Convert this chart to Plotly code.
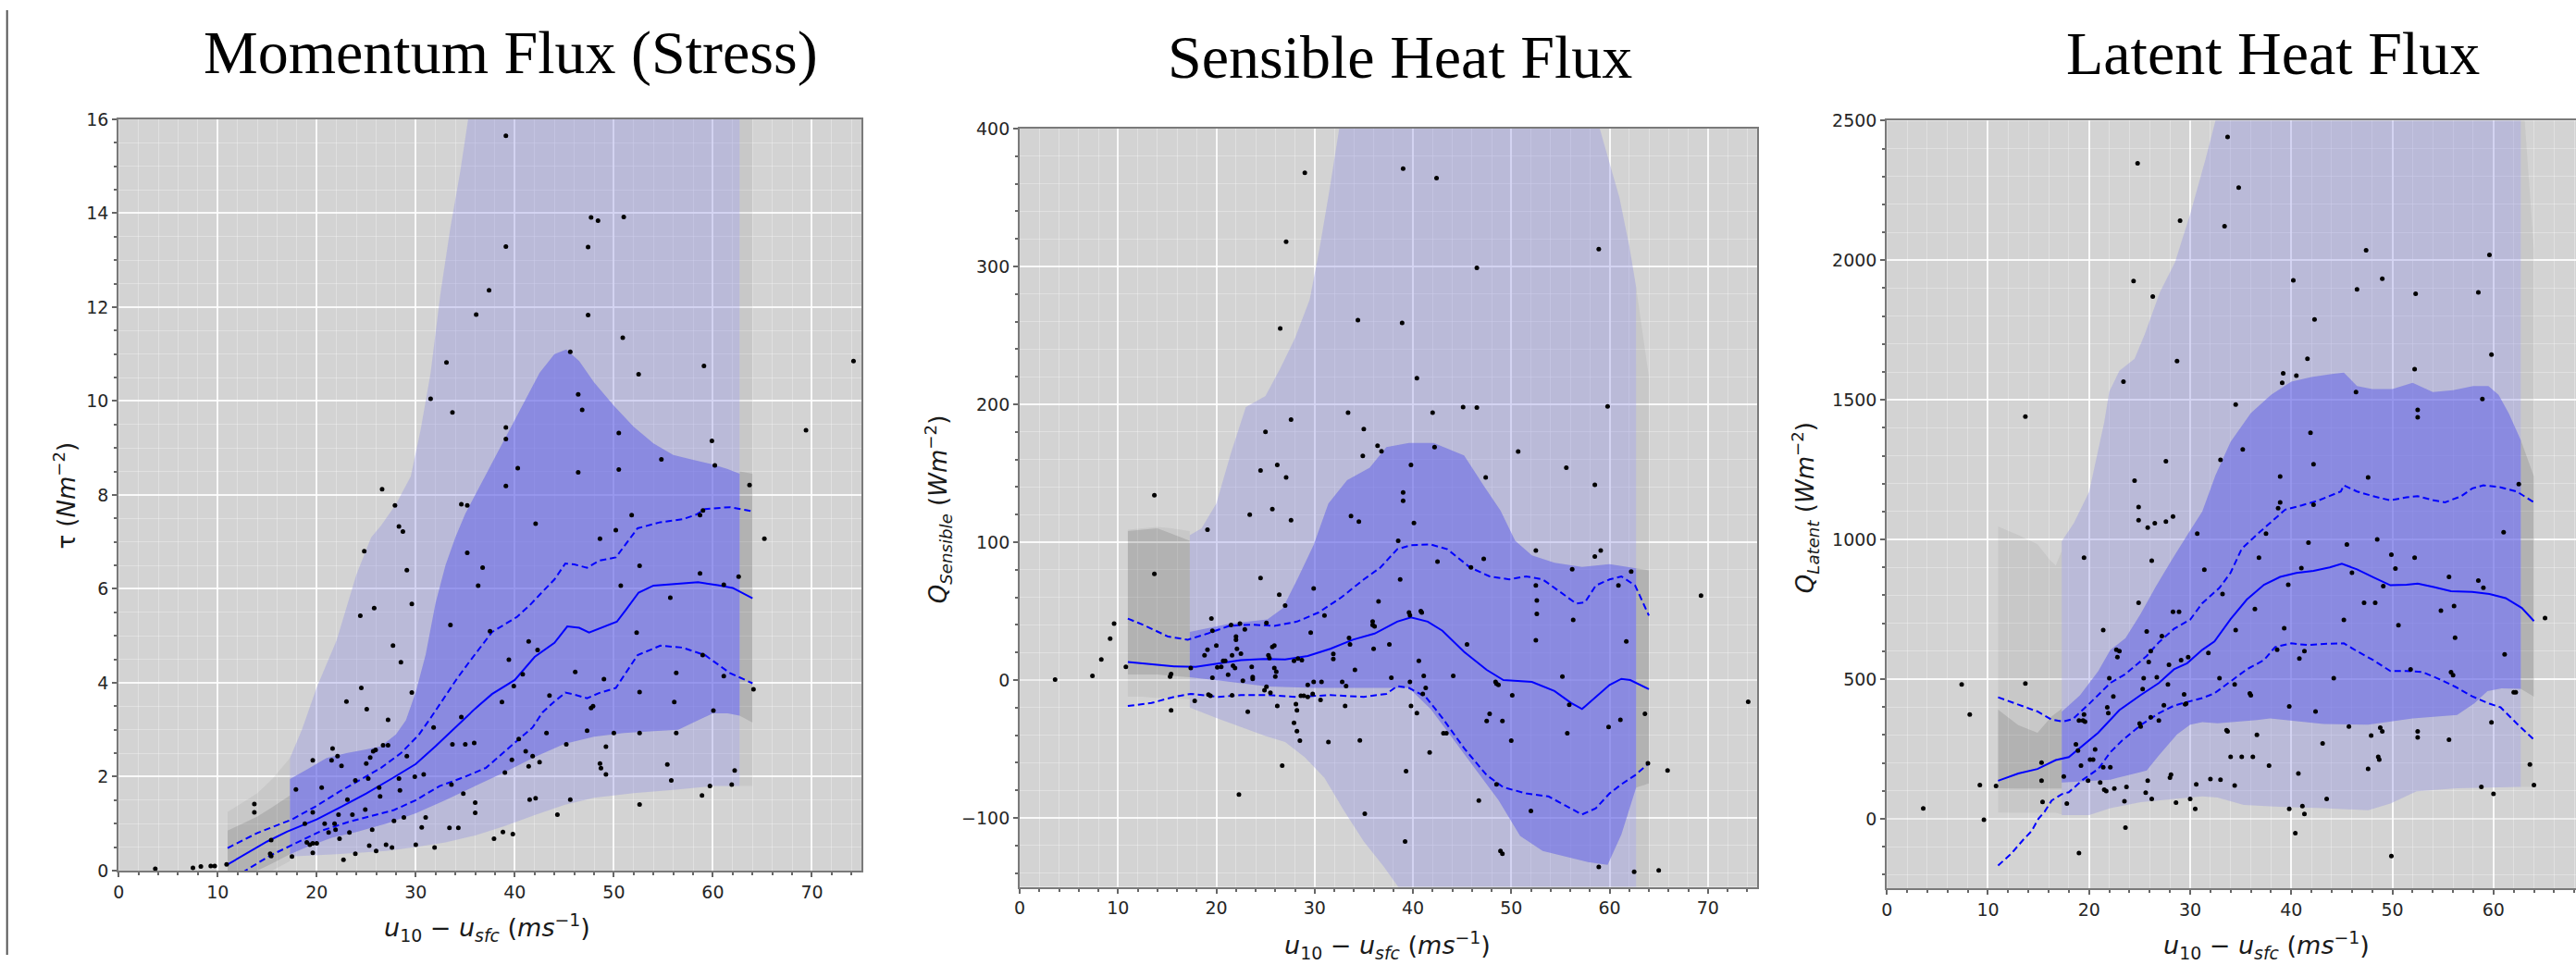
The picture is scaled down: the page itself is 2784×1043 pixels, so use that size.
import plotly.graph_objects as go

# ---------------- Panel 1: Momentum flux (stress) ----------------
TAU_POINTS = [(3.7,0.04),(7.5,0.06),(8.3,0.09),(9.3,0.1),(9.7,0.1),(10.9,0.13),(13.7,1.42),(13.7,1.24),(15.4,0.65),(15.4,0.31),
 (15.3,0.36),(17.5,0.3),(17.9,1.73),(18.8,1.0),(19.0,0.6),(19.3,0.55),(19.6,0.58),(19.6,2.35),(19.6,1.24),(19.6,0.38),
 (20.0,0.58),(20.5,1.77),(20.8,1.0),(21.2,0.81),(21.5,2.35),(21.6,2.6),(21.8,1.0),(21.9,0.87),(22.1,2.44),(22.2,1.19),
 (22.3,0.68),(22.5,2.23),(22.7,0.23),(23.0,3.6),(23.1,1.51),(23.3,0.81),(23.6,1.19),(23.9,1.92),(23.9,0.36),(24.4,5.43),
 (24.5,3.89),(24.8,6.8),(24.9,1.3),(25.0,2.28),(25.05,3.44),(25.2,1.96),(25.3,0.53),(25.4,2.41),(25.6,0.87),(25.7,2.54),
 (25.8,5.59),(26.0,0.42),(25.95,2.57),(26.3,1.77),(26.4,1.58),(26.6,8.12),(26.7,2.67),(27.0,0.55),(27.2,2.67),(27.2,3.21),
 (27.7,4.79),(27.8,1.06),(27.6,0.49),(27.9,7.78),(28.3,1.96),(28.3,7.33),(28.4,1.71),(28.5,4.44),(28.7,7.22),(28.8,1.13),
 (29.1,6.4),(29.1,2.44),(29.6,5.68),(29.6,3.79),(29.9,2.0),(30.0,0.55),(30.6,0.92),(30.8,2.05),(31.0,1.13),(31.5,10.05),
 (31.8,3.05),(31.9,0.49),(33.1,10.82),(33.5,5.23),(33.7,9.76),(33.7,2.69),(33.6,1.83),(33.4,0.91),(34.3,0.91),(34.6,3.27),
 (34.6,7.8),(34.8,1.64),(35.2,6.77),(35.0,2.69),(35.2,7.78),(35.9,2.72),(36.0,1.45),(36.0,1.23),(36.1,11.84),(36.3,6.07),
 (36.75,6.45),(37.5,5.1),(37.4,12.36),(37.9,0.68),(38.7,3.59),(38.8,0.82),(39.0,2.09),(39.1,15.65),(39.1,13.29),(39.1,9.44),
 (39.1,9.19),(39.1,8.19),(39.4,4.49),(39.7,2.36),(39.8,0.78),(39.9,3.93),(40.3,8.57),(40.4,2.80),(40.8,4.18),(41.1,2.54),
 (41.4,4.88),(41.4,2.22),(41.5,1.51),(41.8,2.44),(42.1,7.39),(42.1,1.54),(42.3,4.70),(42.5,2.31),(43.2,2.93),(43.5,3.73),
 (44.3,1.19),(45.2,2.69),(45.6,11.05),(45.6,1.51),(46.1,4.23),(46.4,10.14),(46.4,8.48),(46.8,9.81),(47.3,2.98),(47.4,11.83),
 (47.4,13.28),(47.7,13.91),(47.7,3.46),(47.9,3.50),(48.4,13.84),(48.6,7.07),(48.6,2.28),(48.7,2.18),(49.0,4.08),(49.2,2.05),
 (49.2,2.64),(50.0,2.93),(50.2,7.25),(50.5,9.32),(50.5,8.54),(50.7,6.07),(50.9,11.35),(51.0,13.92),(51.8,7.57),(52.3,5.07),
 (52.5,10.57),(52.6,6.49),(52.6,3.80),(52.6,2.93),(52.6,1.41),(54.8,8.76),(55.4,2.26),(55.7,5.81),(55.8,1.92),(56.1,3.59),
 (56.3,2.93),(56.3,4.21),(58.7,6.33),(58.7,7.57),(58.9,1.60),(58.97,4.59),(59.0,7.67),(59.1,10.75),(59.7,1.80),(59.9,9.15),
 (60.05,3.41),(60.2,8.63),(61.1,6.09),(61.1,4.14),(61.9,1.83),(62.2,2.13),(62.6,6.26),(63.7,8.21),(64.1,3.86),(65.2,7.07),
 (69.4,9.38),(74.2,10.85)]
TAU_MEDIAN = [(11,0.13),(13,0.37),(15,0.62),(17,0.83),(20,1.09),(22.5,1.36),(25,1.64),(27.5,1.95),(30,2.27),(32,2.65),
 (34.5,3.15),(36,3.45),(37.7,3.76),(40,4.06),(42,4.55),(44,4.85),(45.3,5.2),(46.5,5.17),(47.5,5.07),(48.5,5.15),
 (50.3,5.3),(51.2,5.55),(52.5,5.92),(54,6.07),(56,6.1),(58.5,6.14),(60.5,6.08),(62,6.02),(64,5.8)]
TAU_Q_HI = [(11,0.48),(14,0.8),(17.5,1.09),(20,1.38),(22.2,1.67),(24.5,1.95),(26.5,2.19),(28.5,2.5),(30.3,2.89),(31.5,3.25),
 (32.8,3.67),(34.2,4.1),(35.6,4.5),(37.7,5.08),(40.2,5.4),(41.5,5.65),(42.8,5.94),(44,6.2),(45.1,6.54),(46,6.52),
 (47.3,6.45),(48.5,6.6),(50.2,6.67),(51.2,6.95),(52.4,7.29),(54.7,7.42),(56.9,7.48),(58.3,7.58),(59.2,7.7),(61.7,7.74),(64,7.65)]
TAU_Q_LO = [(11,-0.35),(12.8,0.0),(15.3,0.32),(18.4,0.64),(20.5,0.85),(23.1,1.03),(27.8,1.29),(30,1.5),(32.4,1.8),(35,2.0),
 (37.1,2.19),(40.2,2.76),(41.8,3.05),(42.8,3.37),(44,3.6),(45.1,3.79),(46,3.75),(47.3,3.67),(48.5,3.78),(50.2,3.89),
 (51.2,4.2),(52.4,4.59),(54.7,4.79),(56.9,4.75),(59.2,4.59),(61.7,4.21),(64,3.99)]
TAU_OUTER_HI = [(17.3,2.4),(18.5,3.0),(20,3.9),(22,4.9),(24,6.3),(25.5,7.1),(26.5,7.35),(28,7.8),(29.5,8.4),(30.5,9.4),
 (31.5,10.6),(32.5,12.3),(33.5,13.7),(34.5,14.9),(35.5,16.3),(37,18),(62.7,18)]
TAU_OUTER_LO = [(17.3,0.3),(22,0.35),(27,0.42),(30,0.5),(33,0.6),(36,0.75),(39,0.95),(42,1.18),(45,1.4),(48,1.55),
 (52,1.65),(56,1.72),(60,1.8),(62.7,1.8)]
TAU_INNER_HI = [(17.3,1.95),(19,2.15),(21,2.4),(23,2.5),(25,2.58),(26.5,2.65),(28,2.9),(29,3.2),(30,3.8),(31,4.6),
 (32,5.7),(33,6.5),(34,7.1),(35,7.6),(36.5,8.2),(38,8.8),(39.5,9.4),(41,10.0),(42.5,10.6),(44,11.0),(45.2,11.1),
 (46.5,10.85),(48,10.4),(50,9.9),(52,9.45),(54,9.1),(56,8.85),(58,8.75),(60,8.65),(61.5,8.55),(62.7,8.45)]
TAU_INNER_LO = [(17.3,0.35),(19,0.5),(21.5,0.7),(24,0.82),(27,1.0),(30,1.22),(33,1.5),(36,1.8),(39,2.1),(42,2.42),
 (45,2.7),(48,2.85),(51,2.93),(54,2.97),(56.5,3.0),(58.5,3.2),(60,3.35),(61.5,3.35),(62.7,3.3)]
TAU_GRAY_L_X = [11, 12.5, 14, 15.5, 17.3]
TAU_GRAY_L_OUT_HI = [1.25, 1.45, 1.65, 1.95, 2.4]
TAU_GRAY_L_OUT_LO = [-0.5, -0.4, -0.25, 0.0, 0.2]
TAU_GRAY_L_IN_HI = [0.85, 1.0, 1.15, 1.35, 1.6]
TAU_GRAY_L_IN_LO = [-0.3, -0.15, 0.0, 0.15, 0.35]
TAU_GRAY_R_X = [62.7, 64]
TAU_GRAY_R_OUT_HI = [17, 17]
TAU_GRAY_R_OUT_LO = [1.8, 1.8]
TAU_GRAY_R_IN_HI = [8.5, 8.45]
TAU_GRAY_R_IN_LO = [3.3, 3.15]

# ---------------- Panel 2: Sensible heat flux ----------------
SEN_POINTS = [(3.6,0.4),(7.4,3),(8.3,15),(9.2,30),(9.6,41),(10.8,9.6),(13.7,134),(13.7,77),(15.3,2.6),(15.4,4.4),
 (15.4,-22),(17.4,8.7),(17.8,-15),(18.8,18),(19.1,22),(19.1,109),(19.2,-10.5),(19.4,-11.4),(19.5,44.6),(19.6,35.8),
 (19.6,1.7),(20.0,25),(20.1,9.2),(20.5,9.6),(20.7,14),(20.9,14),(21.2,3.9),(21.5,40),(21.6,18),(21.6,-11),
 (21.7,10.5),(21.9,8.7),(22.0,29.3),(22.0,31.5),(22.1,22.7),(22.3,-83),(22.4,41),(22.5,19.2),(22.7,-0.4),(22.9,36.7),
 (23.2,-23),(23.4,120),(23.6,9.6),(23.7,2.2),(23.7,0.9),(24.5,152),(24.5,74),(24.9,-7.4),(25.0,180),(25.1,-4.8),
 (25.1,41.5),(25.3,18),(25.4,16),(25.5,-9.2),(25.7,124),(25.7,24),(25.9,25),(25.9,8.7),(26.0,2.6),(26.1,6.1),
 (26.2,-18.8),(26.2,156),(26.4,62),(26.5,255),(26.7,-62),(27.0,54),(27.1,318),(27.1,147),(27.6,189),(27.6,116),
 (27.9,14),(27.9,-31),(28.1,-17.5),(28.2,-37),(28.2,-22),(28.3,15.7),(28.5,-44),(28.6,-11.4),(28.7,14.4),(28.9,-11.4),
 (29.0,368),(29.3,-12.2),(29.3,-3.5),(29.6,34.5),(29.8,-10),(29.9,66.4),(29.9,-1.3),(30.6,-14.4),(30.7,-1.3),(31.0,46.8),
 (31.4,-45),(31.9,19),(31.9,15.3),(32.8,-1.3),(33.1,-18.8),(33.2,-4.4),(33.4,194),(33.5,30.6),(33.6,25.8),(33.7,119),
 (34.1,7.4),(34.4,261),(34.5,115),(34.6,-43.7),(34.9,162.6),(35.0,182),(35.1,-97),(35.9,42.4),(35.9,40),(36.0,22.7),
 (36.1,39),(36.4,170),(36.5,57),(36.8,166),(37.6,25.8),(37.8,1.7),(38.5,101),(38.7,73),(39.0,136),(39.0,130),
 (39.0,371),(38.9,259),(39.3,-66),(39.2,-117),(39.6,49),(39.7,47),(39.7,-1.3),(39.8,156),(39.8,-18.8),(40.1,114),
 (40.4,-24),(40.4,219),(40.6,14),(40.8,50),(40.9,49),(41.0,-10),(41.1,3.1),(41.3,-5.7),(41.7,-52.5),(42.0,194),
 (42.2,169),(42.4,364),(42.5,86),(43.1,-38.5),(43.4,-38.5),(44.1,3.1),(45.1,198),(45.5,25.8),(45.9,81.7),(46.5,197.6),
 (46.5,299),(46.7,-87.4),(47.2,88),(47.4,147),(47.5,-29.7),(47.8,-24.5),(48.4,-1.3),(48.5,-2.6),(48.5,-75.6),(48.7,-3.5),
 (48.9,-124),(49.1,-126),(49.1,-29.7),(50.0,-44),(50.1,-11),(50.7,165.7),(52.0,-95),(52.5,94),(52.5,68.6),(52.6,48),
 (52.6,57.7),(52.5,28.9),(55.2,2.6),(55.6,154),(55.7,-38.5),(55.9,-18),(56.2,80.4),(56.3,43.7),(58.5,141.6),(58.5,89.6),
 (58.9,312.6),(58.9,-135.5),(59.1,94),(59.8,198.5),(59.9,-34),(60.9,68.6),(61.1,-28.9),(61.7,28),(62.2,78.7),(62.5,-139),
 (63.6,-24.5),(63.9,-60.3),(65.0,-138),(65.9,-65.6),(69.3,61.2),(74.1,-15.7)]
SEN_MEDIAN = [(11,13.1),(13.4,11.4),(15.7,10),(17.9,9.6),(20.2,12),(22.5,14.5),(24.8,15.3),(27,14.9),(29.3,17.5),(31.6,22.7),
 (33.9,29.3),(36.1,33.7),(38.4,42.4),(39.8,45.5),(41.5,42.4),(43,35.8),(45.2,20.5),(47.5,7.4),(49.2,0),(52.1,-1.3),
 (54.4,-7.9),(56.1,-16.6),(57.2,-21),(58.6,-12.2),(60,-3.5),(61.2,0.9),(62.1,0),(64,-6.6)]
SEN_Q_HI = [(11,44.6),(12.8,39.3),(15.1,31.5),(17.1,29.3),(19.1,33.7),(21.3,39.3),(23.6,40.2),(25.9,39.3),(28.2,42.4),(30.4,49),
 (32.7,59.9),(35,73),(36.7,81.7),(38.4,94.9),(39.8,97.9),(41.8,98.4),(43.5,94.9),(45.8,81.7),(47.8,75.2),(49.8,73),
 (51.5,75.2),(53.2,73),(54.9,64.3),(56.6,55.5),(57.5,56.4),(58.6,68.6),(60,73),(61.2,75.2),(62.6,68.6),(64,46.8)]
SEN_Q_LO = [(11,-18.8),(13.4,-16.6),(15.7,-12.2),(17.4,-10),(20.2,-12.2),(22.5,-10.9),(25.3,-10.9),(28.2,-12.2),(31.6,-10.9),(35,-12.2),
 (37.3,-10),(38.4,-4.4),(39.6,-5.7),(41.3,-12.2),(43,-27.5),(45.2,-49.4),(47.5,-69),(49.2,-77.8),(51.5,-82.2),(53.8,-84.4),
 (55.5,-91),(57.2,-97.5),(58.6,-93),(60,-82.2),(61.2,-75.6),(62.6,-69),(64,-60.3)]
SEN_OUTER_HI = [(17.3,105),(18.5,110),(20,128),(21.5,165),(23,198),(25,206),(26.5,226),(28,248),(29.5,276),(30.5,313),
 (31.5,355),(32.5,400),(34,470),(57,470),(59,400),(60,375),(61,350),(62,315),(62.7,285)]
SEN_OUTER_LO = [(17.3,-20),(20,-27.5),(22.5,-34),(25,-40.6),(27,-45),(29,-56),(31,-71),(33,-95),(35,-117),(37,-135),
 (38.5,-150),(40,-170),(62.7,-170)]
SEN_INNER_HI = [(17.3,35),(21.4,41),(25.2,44),(26.75,52),(28.3,74),(29.9,98),(31.4,128),(33.3,145),(35.6,154),(37.3,169),
 (39.6,172),(42.1,172),(45.2,163),(47.2,141),(48.9,123),(50.4,101),(52.1,90.5),(54.4,85),(57.2,82),(60,84),(62.7,81)]
SEN_INNER_LO = [(17.3,2),(20.5,-0.5),(25.2,-4.7),(29.9,-5.7),(33,-5.7),(37.3,-5.7),(39.6,-5.7),(41.8,-21),(44.1,-43),(46.4,-65),
 (48.7,-87),(50.9,-113),(53.2,-124),(55.5,-128),(57.8,-132),(59.8,-134),(61.2,-112),(62.7,-78)]
SEN_GRAY_L_X = [11, 12.5, 14, 15.5, 17.3]
SEN_GRAY_L_OUT_HI = [109, 110, 111, 110, 108]
SEN_GRAY_L_OUT_LO = [-12, -12, -13, -13, -14]
SEN_GRAY_L_IN_HI = [108, 109, 110, 106, 101]
SEN_GRAY_L_IN_LO = [4, 4, 4, 3, 2]
SEN_GRAY_R_X = [62.7, 64]
SEN_GRAY_R_OUT_HI = [285, 220]
SEN_GRAY_R_OUT_LO = [-170, -170]
SEN_GRAY_R_IN_HI = [81, 79.6]
SEN_GRAY_R_IN_LO = [-78, -75]

# ---------------- Panel 3: Latent heat flux ----------------
LAT_POINTS = [(3.6,37),(7.4,481),(8.2,373),(9.2,121),(9.6,-4),(10.8,117),(13.7,1440),(13.7,484),(15.3,201),(15.3,136),
 (15.4,60),(17.5,151),(17.8,54),(18.7,266),(18.9,244),(19.0,352),(19.0,-123),(19.2,190),(19.4,352),(19.5,373),
 (19.5,935),(19.6,348),(19.9,136),(20.1,212),(20.4,212),(20.6,248),(21.1,130),(21.4,184),(21.4,676),(21.5,104),
 (21.7,99),(21.8,399),(21.9,378),(22.0,503),(22.1,184),(22.4,438),(22.5,108),(22.7,605),(22.8,579),(23.0,600),
 (23.4,1565),(23.5,63),(23.6,-32),(23.7,114),(24.4,1926),(24.5,1211),(24.8,2347),(24.9,773),(24.9,1116),(24.9,1069),
 (25.0,341),(25.1,330),(25.3,464),(25.4,503),(25.6,93),(25.7,671),(25.8,1043),(25.8,136),(25.9,561),(26.1,363),
 (26.1,600),(26.2,71),(26.2,924),(26.3,1870),(26.5,1058),(26.7,507),(26.9,352),(27.2,654),(27.4,406),(27.6,1280),
 (27.6,1064),(27.8,481),(27.9,551),(28.0,147),(28.1,158),(28.3,741),(28.3,1082),(28.6,58),(28.7,1639),(28.9,741),
 (29.0,2142),(29.1,568),(29.4,445),(29.5,410),(29.6,412),(29.8,579),(30.0,71),(30.5,35),(30.6,123),(30.7,1021),
 (31.4,892),(31.8,594),(32.0,142),(32.9,503),(33.0,140),(33.0,1285),(33.2,805),(33.4,2122),(33.6,317),(33.7,2442),
 (33.7,313),(34.0,222),(34.4,481),(34.4,119),(34.5,676),(34.5,1483),(34.8,2260),(35.1,222),(35.2,1323),(35.9,449),
 (36.0,442),(36.2,222),(36.4,751),(36.6,300),(36.8,935),(37.5,1021),(37.8,190),(38.6,605),(38.7,1112),(38.9,1133),
 (38.9,1226),(39.1,1561),(39.2,1595),(39.3,682),(39.7,838),(39.8,402),(39.8,35),(40.2,1928),(40.4,-52),(40.5,1587),
 (40.7,162),(40.8,574),(41.0,898),(41.1,45),(41.3,600),(41.3,17),(41.6,1647),(41.7,989),(41.9,1382),(42.2,1270),
 (42.2,1125),(42.3,1788),(42.4,384),(43.1,270),(43.5,71),(44.2,503),(45.2,712),(45.5,982),(45.7,330),(46.0,881),
 (46.4,1528),(46.5,1896),(47.2,773),(47.4,2036),(47.6,1222),(47.6,179),(47.9,298),(48.3,773),(48.5,1000),(48.6,222),
 (48.7,212),(48.8,326),(49.0,313),(49.0,1934),(49.1,833),(49.9,946),(49.9,-134),(50.3,896),(50.6,693),(51.8,535),
 (52.2,935),(52.2,1610),(52.3,1880),(52.5,1464),(52.5,1438),(52.5,313),(52.5,291),(55.6,866),(55.6,283),(54.8,745),
 (55.8,525),(56.0,514),(56.1,762),(56.2,648),(58.5,1885),(58.5,853),(58.8,114),(58.9,1503),(59.0,827),(59.6,2019),
 (59.8,1662),(59.8,345),(60.0,89),(61.0,1026),(61.1,589),(62.0,453),(62.2,453),(62.5,1198),(63.6,194),(64.0,121),
 (65.1,719)]
LAT_MEDIAN = [(11,136),(13,162),(14.9,178),(16.7,210),(18,221),(19.1,254),(20.9,308),(23,389),(25.1,443),(26.9,486),
 (28.4,535),(29.7,557),(31.2,605),(32.4,635),(34,715),(35.6,785),(37.3,838),(38.9,866),(40.5,880),(42.2,888),
 (43.8,900),(45.0,913),(46.5,893),(48.1,865),(49.8,836),(51.4,838),(52.5,842),(54.1,830),(55.8,815),(57.9,812),
 (59.6,805),(61.2,790),(62.8,755),(64,708)]
LAT_Q_HI = [(11,435),(13,409),(14.9,384),(16.3,355),(17.4,348),(18.4,357),(20,411),(22.1,486),(23.6,518),(25.7,583),
 (26.9,632),(28.4,680),(30,713),(31.2,772),(32.9,827),(34,881),(35.1,967),(36.7,1021),(38.4,1075),(39.4,1107),
 (41.1,1123),(42.7,1140),(44.9,1172),(45.2,1194),(46.5,1172),(48.1,1155),(49.8,1140),(51.4,1151),(52.5,1155),(54.1,1140),
 (55.2,1133),(56.8,1155),(57.9,1183),(59,1194),(60.7,1187),(62.3,1172),(64,1133)]
LAT_Q_LO = [(11,-168),(12.3,-125),(13.5,-75),(14.3,-45),(15,0),(15.6,25),(16.3,65),(17.3,88),(18,95),(19.4,140),
 (20.9,178),(22.1,238),(23.3,281),(25.1,335),(26.9,378),(28.4,405),(30,421),(31.2,432),(32.4,449),(34,492),
 (35.6,535),(37.3,568),(38.4,615),(40,628),(41.6,622),(43.2,626),(45.2,628),(46.5,600),(48.1,568),(49.8,529),
 (51.4,529),(53,525),(54.7,499),(56.3,471),(57.9,438),(59.6,412),(60.7,399),(62.3,341),(64,283)]
LAT_OUTER_HI = [(17.3,994),(18.5,1059),(20,1170),(21.5,1420),(22,1530),(23,1604),(24.5,1647),(25.5,1734),(27,1885),(28.5,1993),
 (30,2165),(31.5,2360),(32.5,2500),(34,2700),(62.7,2700)]
LAT_OUTER_LO = [(17.3,13),(20,13),(22.1,38),(25.1,59),(28.2,70),(31.2,80),(32.7,76),(35.3,49),(38.8,43),(43.2,38),
 (47.6,30),(49.8,54),(52.4,98),(56.4,109),(62.7,114)]
LAT_INNER_HI = [(17.3,383),(19.1,442),(20.9,528),(22.1,604),(23.6,647),(25.1,734),(26.6,831),(28.2,928),(29.7,1015),(31.2,1101),
 (32.5,1230),(34,1350),(36,1453),(38,1518),(40,1565),(42,1582),(44,1593),(45.2,1598),(46.5,1550),(48,1539),
 (50,1539),(52,1561),(54,1528),(56,1535),(58,1550),(59.5,1550),(60.5,1518),(61.5,1453),(62.7,1356)]
LAT_INNER_LO = [(17.3,130),(22.1,140),(25.1,167),(25.7,173),(26.9,227),(28.7,302),(30,337),(31.2,346),(32.7,342),(36.6,353),
 (37.9,359),(41,348),(43.2,339),(47.6,337),(52,359),(56.4,372),(58.1,413),(59.4,457),(60.8,467),(62.7,465)]
LAT_GRAY_L_OUT_X = [11, 13, 14.9, 16.1, 16.7, 17.3]
LAT_GRAY_L_OUT_HI = [1047, 1016, 983, 928, 907, 960]
LAT_GRAY_L_OUT_LO = [22, 21, 21, 21, 21, 15]
LAT_GRAY_L_IN_X = [11, 13, 14.9, 16.3, 17.3]
LAT_GRAY_L_IN_HI = [391, 335, 308, 367, 394]
LAT_GRAY_L_IN_LO = [109, 108, 108, 108, 108]
LAT_GRAY_R_X = [62.7, 64]
LAT_GRAY_R_OUT_HI = [2700, 2036]
LAT_GRAY_R_OUT_LO = [114, 114]
LAT_GRAY_R_IN_HI = [1356, 1226]
LAT_GRAY_R_IN_LO = [465, 437]

TITLES = ["Momentum Flux (Stress)", "Sensible Heat Flux", "Latent Heat Flux"]
X_LABEL = "<i>u</i><sub>10</sub> − <i>u</i><sub><i>sfc</i></sub> (<i>ms</i><sup>−1</sup>)"
Y_LABELS = ["τ (<i>Nm</i><sup>−2</sup>)",
            "<i>Q</i><sub><i>Sensible</i></sub> (<i>Wm</i><sup>−2</sup>)",
            "<i>Q</i><sub><i>Latent</i></sub> (<i>Wm</i><sup>−2</sup>)"]

# ---------------- styling ----------------
W, H = 2784, 1043
BG = '#d3d3d3'
LAV = 'rgba(140,140,225,0.35)'
MED = 'rgba(90,90,232,0.5)'
GRAY_OUT = 'rgba(0,0,0,0.05)'
GRAY_IN = 'rgba(0,0,0,0.11)'
BLUE = '#0000ff'
TICK_FONT = dict(family='DejaVu Sans', size=19, color='#262626')
XLABEL_FONT = dict(family='DejaVu Sans', size=27, color='#1a1a1a')
YLABEL_FONT = dict(family='DejaVu Sans', size=26, color='#1a1a1a')
TITLE_FONT = dict(family='Liberation Serif, Times New Roman, serif', size=66, color='black')


def unzip(pairs):
    return [p[0] for p in pairs], [p[1] for p in pairs]


def band_xy(hi, lo):
    hx, hy = unzip(hi)
    lx, ly = unzip(lo)
    return hx + lx[::-1], hy + ly[::-1]


fig = go.Figure()


def add_fill(xs, ys, color, xa, ya):
    fig.add_trace(go.Scatter(x=xs, y=ys, fill='toself', fillcolor=color, mode='none',
                             line=dict(width=0), xaxis=xa, yaxis=ya, hoverinfo='skip', showlegend=False))


def add_panel(n, points, med, qhi, qlo, ohi, olo, ihi, ilo, grays):
    xa = 'x' if n == 1 else 'x%d' % n
    ya = 'y' if n == 1 else 'y%d' % n
    for gx, ghi, glo, col in grays:
        add_fill(list(gx) + list(gx)[::-1], list(ghi) + list(glo)[::-1], col, xa, ya)
    bx, by = band_xy(ohi, olo)
    add_fill(bx, by, LAV, xa, ya)
    bx, by = band_xy(ihi, ilo)
    add_fill(bx, by, MED, xa, ya)
    for pairs, dash in ((med, 'solid'), (qhi, '7px,4px'), (qlo, '7px,4px')):
        lx, ly = unzip(pairs)
        fig.add_trace(go.Scatter(x=lx, y=ly, mode='lines', line=dict(color=BLUE, width=2, dash=dash),
                                 xaxis=xa, yaxis=ya, hoverinfo='skip', showlegend=False))
    px, py = unzip(points)
    fig.add_trace(go.Scatter(x=px, y=py, mode='markers', marker=dict(color='black', size=5, line=dict(width=0)),
                             xaxis=xa, yaxis=ya, hoverinfo='skip', showlegend=False))


add_panel(1, TAU_POINTS, TAU_MEDIAN, TAU_Q_HI, TAU_Q_LO, TAU_OUTER_HI, TAU_OUTER_LO, TAU_INNER_HI, TAU_INNER_LO,
          [(TAU_GRAY_L_X, TAU_GRAY_L_OUT_HI, TAU_GRAY_L_OUT_LO, GRAY_OUT),
           (TAU_GRAY_R_X, TAU_GRAY_R_OUT_HI, TAU_GRAY_R_OUT_LO, GRAY_OUT),
           (TAU_GRAY_L_X, TAU_GRAY_L_IN_HI, TAU_GRAY_L_IN_LO, GRAY_IN),
           (TAU_GRAY_R_X, TAU_GRAY_R_IN_HI, TAU_GRAY_R_IN_LO, GRAY_IN)])
add_panel(2, SEN_POINTS, SEN_MEDIAN, SEN_Q_HI, SEN_Q_LO, SEN_OUTER_HI, SEN_OUTER_LO, SEN_INNER_HI, SEN_INNER_LO,
          [(SEN_GRAY_L_X, SEN_GRAY_L_OUT_HI, SEN_GRAY_L_OUT_LO, GRAY_OUT),
           (SEN_GRAY_R_X, SEN_GRAY_R_OUT_HI, SEN_GRAY_R_OUT_LO, GRAY_OUT),
           (SEN_GRAY_L_X, SEN_GRAY_L_IN_HI, SEN_GRAY_L_IN_LO, GRAY_IN),
           (SEN_GRAY_R_X, SEN_GRAY_R_IN_HI, SEN_GRAY_R_IN_LO, GRAY_IN)])
add_panel(3, LAT_POINTS, LAT_MEDIAN, LAT_Q_HI, LAT_Q_LO, LAT_OUTER_HI, LAT_OUTER_LO, LAT_INNER_HI, LAT_INNER_LO,
          [(LAT_GRAY_L_OUT_X, LAT_GRAY_L_OUT_HI, LAT_GRAY_L_OUT_LO, GRAY_OUT),
           (LAT_GRAY_R_X, LAT_GRAY_R_OUT_HI, LAT_GRAY_R_OUT_LO, GRAY_OUT),
           (LAT_GRAY_L_IN_X, LAT_GRAY_L_IN_HI, LAT_GRAY_L_IN_LO, GRAY_IN),
           (LAT_GRAY_R_X, LAT_GRAY_R_IN_HI, LAT_GRAY_R_IN_LO, GRAY_IN)])


def px_x(p):
    return p / W


def px_y(p):
    return 1 - p / H


def axis(domain, rng, anchor, dtick, minor_dtick, mirror=True):
    return dict(domain=domain, range=rng, anchor=anchor, tick0=0, dtick=dtick, autorange=False,
                showgrid=True, gridcolor='rgba(255,255,255,0.85)', gridwidth=1.5,
                ticks='outside', ticklen=5, tickwidth=1.5, tickcolor='#666',
                showline=True, linecolor='#7a7a7a', linewidth=2, mirror=mirror, zeroline=False,
                tickfont=TICK_FONT, layer='above traces',
                minor=dict(dtick=minor_dtick, tick0=0, showgrid=True, gridcolor='rgba(255,255,255,0.3)',
                           gridwidth=1, ticks='outside', ticklen=3, tickcolor='#666'))


# panel pixel boxes (left, right, top, bottom)
P1 = (122.5, 927.0, 120.5, 950.0)
P2 = (1098.4, 1897.0, 130.7, 968.0)
P3 = (2037.6, 2784.0, 122.0, 969.8)

layout = dict(
    width=W, height=H, autosize=False, margin=dict(l=0, r=0, t=0, b=0),
    paper_bgcolor='white', plot_bgcolor=BG, showlegend=False,
    xaxis=axis([px_x(P1[0]), px_x(P1[1])], [0, 75], 'y', 10, 2),
    yaxis=axis([px_y(P1[3]), px_y(P1[2])], [0, 16], 'x', 2, 0.5),
    xaxis2=axis([px_x(P2[0]), px_x(P2[1])], [0, 75], 'y2', 10, 2),
    yaxis2=axis([px_y(P2[3]), px_y(P2[2])], [-150, 400], 'x2', 100, 20),
    xaxis3=axis([px_x(P3[0]), 1.0], [0, 68.16], 'y3', 10, 2),
    yaxis3=axis([px_y(P3[3]), px_y(P3[2])], [-250, 2500], 'x3', 500, 100, mirror=False),
)
fig.update_layout(**layout)

annotations = []
title_pos = [(547, 47), (1510.6, 52), (2456, 47)]
for t, (cx, cy) in zip(TITLES, title_pos):
    annotations.append(dict(text=t, x=px_x(cx), y=px_y(cy), xref='paper', yref='paper',
                            xanchor='center', yanchor='middle', showarrow=False, font=TITLE_FONT))
xlab = [(522, 1013), (1497, 1032), (2448.6, 1032)]
for cx, cy in xlab:
    annotations.append(dict(text=X_LABEL, x=px_x(cx), y=px_y(cy), xref='paper', yref='paper',
                            xanchor='center', yanchor='middle', showarrow=False, font=XLABEL_FONT))
ylab = [(64, 536), (1010, 551), (1949, 549)]
for t, (cx, cy) in zip(Y_LABELS, ylab):
    annotations.append(dict(text=t, x=px_x(cx), y=px_y(cy), xref='paper', yref='paper', textangle=-90,
                            xanchor='center', yanchor='middle', showarrow=False, font=YLABEL_FONT))
fig.update_layout(annotations=annotations)

shapes = [
    dict(type='line', xref='paper', yref='paper', x0=0.0006, x1=0.0006, y0=0, y1=1,
         line=dict(color='#555555', width=2)),
    dict(type='line', xref='x2 domain', yref='y2', x0=0, x1=1, y0=0, y1=0, layer='below',
         line=dict(color='#808080', width=2)),
    dict(type='line', xref='x3 domain', yref='y3', x0=0, x1=1, y0=0, y1=0, layer='below',
         line=dict(color='#808080', width=2)),
]
fig.update_layout(shapes=shapes)

fig.write_html("out.html")
